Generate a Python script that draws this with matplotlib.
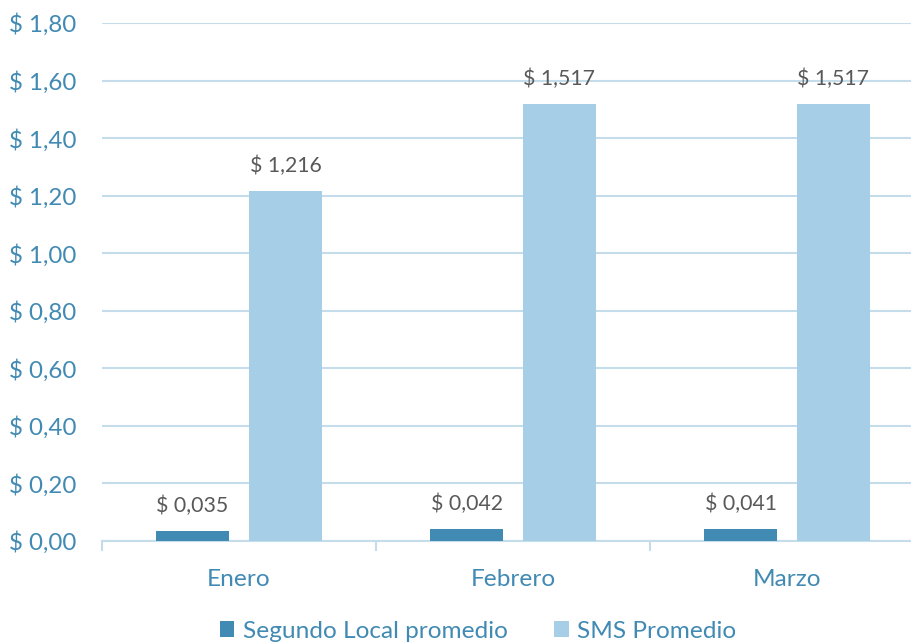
import matplotlib
matplotlib.use("Agg")
import matplotlib.pyplot as plt
import numpy as np

categories = ["Enero", "Febrero", "Marzo"]
segundo_local = [0.035, 0.042, 0.041]
sms = [1.216, 1.517, 1.517]
yticks = [0.0, 0.2, 0.4, 0.6, 0.8, 1.0, 1.2, 1.4, 1.6, 1.8]

dark = "#418AB3"
light = "#A6CEE7"
axis_col = "#418AB3"
grid_col = "#C5DDEB"
label_col = "#595959"

plt.rcParams['font.family'] = ['Lato', 'DejaVu Sans']

W, H = 912, 644
fig = plt.figure(figsize=(W/100, H/100), dpi=100)
left, right, bottom, top = 102, 924, 541, 23
ax = fig.add_axes([left/W, 1 - bottom/H, (right-left)/W, (bottom-top)/H])

x = np.arange(len(categories))
bw = 0.263
off = 0.1697
b1 = ax.bar(x - off, segundo_local, bw, color=dark, label="Segundo Local promedio", zorder=3)
b2 = ax.bar(x + off, sms, bw, color=light, label="SMS Promedio", zorder=3)

def fmt(v):
    return "$ " + f"{v:.3f}".replace(".", ",")

for rects, vals in ((b1, segundo_local), (b2, sms)):
    for r, v in zip(rects, vals):
        ax.annotate(fmt(v), (r.get_x() + r.get_width()/2, r.get_height()),
                    xytext=(0, 11), textcoords="offset points", ha="center", va="bottom",
                    fontsize=15.3, color=label_col)

ax.set_xlim(-0.5, 2.5)
ax.set_ylim(0, 1.8)
ax.set_yticks(yticks)
ax.set_yticklabels(["$ " + f"{v:.2f}".replace(".", ",") for v in yticks])
ax.set_xticks(x)
ax.set_xticklabels(categories)
ax.tick_params(axis='y', length=0, pad=18.7, labelsize=17.4, labelcolor=axis_col)
ax.tick_params(axis='x', length=0, pad=20, labelsize=17.6, labelcolor=axis_col)
ax.grid(axis='y', color=grid_col, linewidth=1.5, zorder=0)
for s in ["top", "right", "left"]:
    ax.spines[s].set_visible(False)
ax.spines["bottom"].set_color(grid_col)
ax.spines["bottom"].set_linewidth(1.5)
ax.set_xticks([-0.5, 0.5, 1.5, 2.5], minor=True)
ax.tick_params(axis='x', which='minor', length=7, color=grid_col, width=1.5)

fig.legend(handles=[b1, b2], loc="center", bbox_to_anchor=(478/W, 1 - 631/H), ncol=2,
           frameon=False, fontsize=17.6, labelcolor=axis_col, handlelength=0.6, handleheight=0.6,
           columnspacing=1.9, handletextpad=0.35)

fig.savefig("out.png", dpi=100)
